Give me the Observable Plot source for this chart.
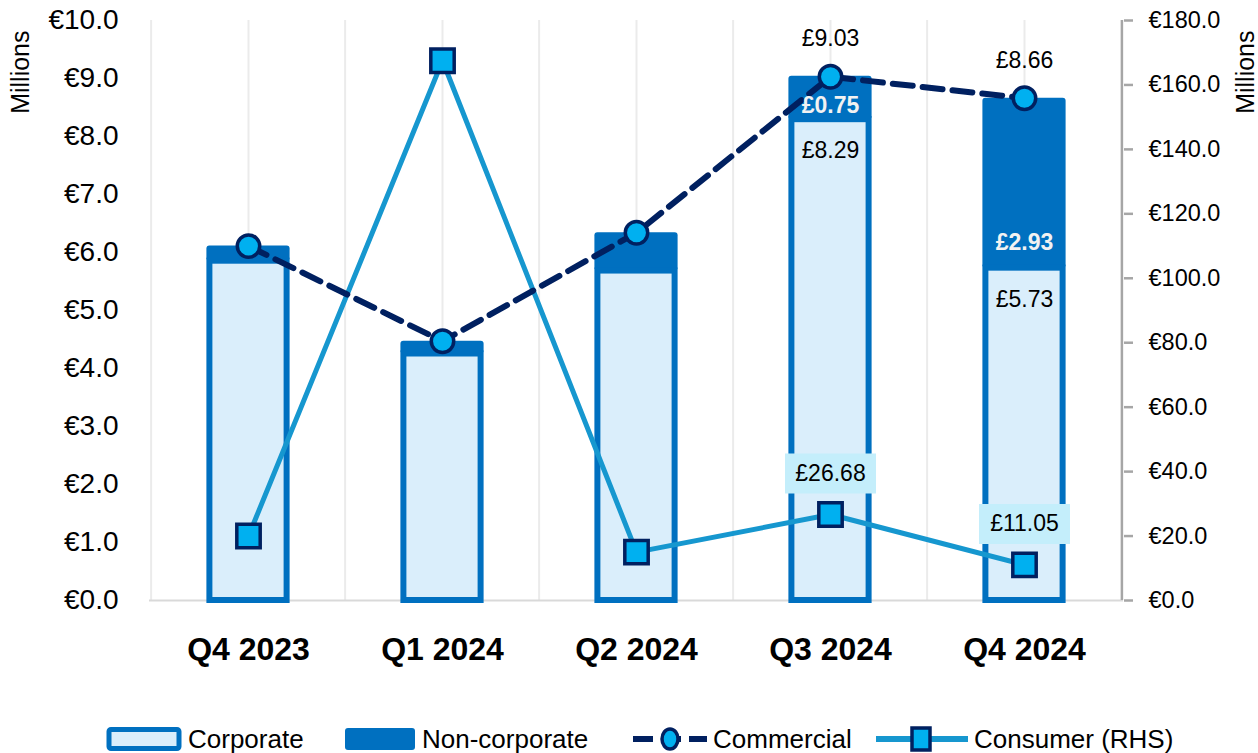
<!DOCTYPE html>
<html><head><meta charset="utf-8">
<script src="https://cdn.jsdelivr.net/npm/d3@7"></script>
<script src="https://cdn.jsdelivr.net/npm/@observablehq/plot@0.6"></script>
<style>
html,body{margin:0;padding:0;background:#fff;}
body{width:1258px;height:753px;position:relative;overflow:hidden;font-family:"Liberation Sans",Arial,sans-serif;}
#chart svg{display:block;}
#legend{position:absolute;left:0;top:724px;width:1258px;height:30px;}
.item{position:absolute;top:0;height:30px;display:flex;align-items:center;font-size:26px;color:#000;white-space:nowrap;}
.item svg{margin-right:6px;flex:none;}
</style></head><body>
<div id="chart"></div>
<div id="legend"></div>
<script>
// ---- data ----
const quarters = ["Q4 2023", "Q1 2024", "Q2 2024", "Q3 2024", "Q4 2024"];
const corporate = [5.85, 4.25, 5.68, 8.29, 5.73];          // € millions (LHS)
const nonCorporate = [0.26, 0.22, 0.66, 0.75, 2.93];       // € millions (LHS)
const commercial = [6.11, 4.47, 6.34, 9.03, 8.66];         // € millions (LHS)
const consumer = [20.0, 167.5, 15.0, 26.68, 11.05];        // € millions (RHS)
const labelledQuarters = ["Q3 2024", "Q4 2024"];
const leftTicks = [0, 1, 2, 3, 4, 5, 6, 7, 8, 9, 10];
const rightTicks = [0, 20, 40, 60, 80, 100, 120, 140, 160, 180];
const LHS_MAX = 10, RHS_MAX = 180;
const seriesNames = ["Corporate", "Non-corporate", "Commercial", "Consumer (RHS)"];

// ---- build ----
const k = RHS_MAX / LHS_MAX;
const data = quarters.map((q, i) => ({
  quarter: q, corporate: corporate[i], nonCorporate: nonCorporate[i],
  total: corporate[i] + nonCorporate[i], commercial: commercial[i], consumer: consumer[i]
}));
const labelled = data.filter(d => labelledQuarters.includes(d.quarter));
const fmt = v => "£" + v.toFixed(2);

const W = 1258, H = 712, mL = 149, mR = 135, mT = 20, mB = 112;
const step = (W - mL - mR) / quarters.length;
const corpW = 78, nonW = 84;

const NAVY = "#002060", BLUE = "#0070C0", LIGHT = "#DAEEFB", CYAN = "#00B0F0", LINE2 = "#1697CF", AXIS = "#A6A6A6";
const labelBox = {draw(ctx) { ctx.rect(-45.5, -20, 91, 40); }};

const chart = Plot.plot({
  width: W, height: H,
  marginLeft: mL, marginRight: mR, marginTop: mT, marginBottom: mB,
  style: {fontFamily: "'Liberation Sans', Arial, sans-serif", background: "#fff", color: "#000", overflow: "visible"},
  x: {domain: quarters, padding: 0},
  y: {domain: [0, LHS_MAX]},
  marks: [
    // vertical gridlines (centres and boundaries)
    Plot.ruleX(quarters, {y1: 0, y2: LHS_MAX, stroke: "#EBEBEB", strokeWidth: 2}),
    Plot.ruleX(quarters, {y1: 0, y2: LHS_MAX, stroke: "#EBEBEB", strokeWidth: 2, dx: -step / 2}),
    Plot.ruleY([0], {stroke: "#D9D9D9", strokeWidth: 2}),
    // right axis line
    Plot.ruleX(quarters.slice(-1), {y1: 0, y2: LHS_MAX, stroke: AXIS, strokeWidth: 2.5, dx: step / 2}),
    // stacked bars
    Plot.barY(data, {x: "quarter", y1: "corporate", y2: "total", fill: BLUE, rx: 3,
      insetLeft: (step - nonW) / 2, insetRight: (step - nonW) / 2}),
    Plot.barY(data, {x: "quarter", y: "corporate", fill: LIGHT, stroke: BLUE, strokeWidth: 6,
      insetLeft: (step - corpW) / 2, insetRight: (step - corpW) / 2}),
    // axes
    Plot.axisY(leftTicks, {anchor: "left", tickSize: 0, tickPadding: 31, fontSize: 28,
      tickFormat: d => "€" + d.toFixed(1), label: null}),
    Plot.axisY(rightTicks.map(v => v / k), {anchor: "right", tickSize: 9, tickPadding: 16, fontSize: 23.5,
      stroke: AXIS, strokeWidth: 2.5, tickFormat: d => "€" + (d * k).toFixed(1), label: null}),
    Plot.axisX({tickSize: 0, tickPadding: 37, fontSize: 32, fontWeight: "bold", label: null}),
    Plot.text(["Millions"], {frameAnchor: "top-left", dx: 11 - mL, dy: 10, rotate: -90, textAnchor: "end", fontSize: 25}),
    Plot.text(["Millions"], {frameAnchor: "top-right", dx: 113, dy: 10, rotate: -90, textAnchor: "end", fontSize: 25}),
    // consumer line (RHS)
    Plot.line(data, {x: "quarter", y: d => d.consumer / k, stroke: LINE2, strokeWidth: 5}),
    // commercial line
    Plot.line(data, {x: "quarter", y: "commercial", stroke: NAVY, strokeWidth: 6, strokeDasharray: "20,10"}),
    Plot.dot(data, {x: "quarter", y: "commercial", r: 11.2, fill: CYAN, stroke: NAVY, strokeWidth: 3.5}),
    Plot.dot(data, {x: "quarter", y: d => d.consumer / k, symbol: "square", r: 13.2, fill: CYAN, stroke: NAVY, strokeWidth: 3.5}),
    // labels
    Plot.text(labelled, {x: "quarter", y: "commercial", text: d => fmt(d.commercial), dy: -38, fontSize: 23, fill: "#000"}),
    Plot.text(labelled, {x: "quarter", y: "corporate", text: d => fmt(d.corporate), dy: 31, fontSize: 23, fill: "#000"}),
    Plot.text(labelled.filter(d => d.quarter === "Q3 2024"), {x: "quarter", y: "corporate", text: d => fmt(d.nonCorporate), dy: -14, fontSize: 23, fontWeight: "bold", fill: "#F2F2F2"}),
    Plot.text(labelled.filter(d => d.quarter === "Q4 2024"), {x: "quarter", y: "corporate", text: d => fmt(d.nonCorporate), dy: -26, fontSize: 23, fontWeight: "bold", fill: "#F2F2F2"}),
    Plot.dot(labelled, {x: "quarter", y: d => d.consumer / k, symbol: labelBox, fill: "#C4EEFB", dy: -41}),
    Plot.text(labelled, {x: "quarter", y: d => d.consumer / k, text: d => fmt(d.consumer), dy: -41, fontSize: 23, fill: "#000"})
  ]
});
document.getElementById("chart").appendChild(chart);

// ---- legend (HTML, below the SVG) ----
const swatches = [
  `<svg width="76" height="26"><rect x="3" y="3.5" width="70" height="19" fill="${LIGHT}" stroke="${BLUE}" stroke-width="5" rx="2"/></svg>`,
  `<svg width="72" height="26"><rect x="1" y="2" width="70" height="22" fill="${BLUE}" rx="3"/></svg>`,
  `<svg width="74" height="26"><line x1="0" y1="13" x2="74" y2="13" stroke="${NAVY}" stroke-width="6" stroke-dasharray="20,8"/><ellipse cx="37" cy="13" rx="8" ry="10" fill="${CYAN}" stroke="${NAVY}" stroke-width="3.5"/></svg>`,
  `<svg width="92" height="26"><line x1="0" y1="13" x2="92" y2="13" stroke="${LINE2}" stroke-width="6"/><rect x="36" y="2" width="18" height="22" fill="${CYAN}" stroke="${NAVY}" stroke-width="3.5"/></svg>`
];
const lefts = [106, 344, 633, 876];
const legend = document.getElementById("legend");
seriesNames.forEach((name, i) => {
  const div = document.createElement("div");
  div.className = "item";
  div.style.left = lefts[i] + "px";
  div.innerHTML = swatches[i] + `<span>${name}</span>`;
  legend.appendChild(div);
});
</script>
</body></html>
